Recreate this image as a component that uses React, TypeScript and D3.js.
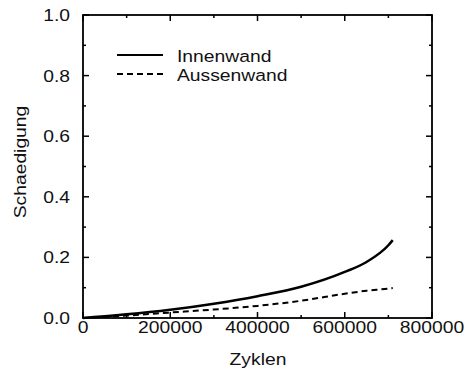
import React from "react";
import * as d3 from "d3";

const cycles = [0, 50000, 100000, 200000, 300000, 400000, 500000, 600000, 650000, 700000, 710000];
const innen = [0, 0.006, 0.012, 0.027, 0.047, 0.072, 0.103, 0.152, 0.185, 0.24, 0.257];
const aussen = [0, 0.004, 0.008, 0.018, 0.028, 0.04, 0.057, 0.08, 0.09, 0.097, 0.099];
const xTicks = [0, 200000, 400000, 600000, 800000];
const yTicks = [0, 0.2, 0.4, 0.6, 0.8, 1.0];
const seriesNames = ["Innenwand", "Aussenwand"];

const W = 467, H = 374;
const L = 83, R = 432, T = 15, B = 318;
const SX = 1.17;
const FS = 16.5;

function Txt(props: { x: number; y: number; anchor?: string; rot?: boolean; children: any }) {
  const { x, y, anchor = "start", rot = false, children } = props;
  const tr = `translate(${x},${y})${rot ? " rotate(-90)" : ""} scale(${SX},1)`;
  return (
    <text transform={tr} textAnchor={anchor} fontSize={FS} fill="#111">{children}</text>
  );
}

export default function App() {
  const x = d3.scaleLinear().domain([0, 800000]).range([L, R]);
  const y = d3.scaleLinear().domain([0, 1]).range([B, T]);
  const line = d3.line<number>().x((_, i) => x(cycles[i])).y((d) => y(d)).curve(d3.curveMonotoneX);
  const xMinor = d3.range(0, 800001, 100000);
  const yMinor = d3.range(0, 1.0001, 0.1);
  const font = "'Liberation Sans', Arial, Helvetica, sans-serif";
  const ticks: any[] = [];
  xMinor.forEach((v, i) => {
    const len = i % 2 === 0 ? 6 : 3;
    ticks.push(<line key={"xb" + i} x1={x(v)} x2={x(v)} y1={B} y2={B - len} stroke="#000" strokeWidth={1.5} />);
    ticks.push(<line key={"xt" + i} x1={x(v)} x2={x(v)} y1={T} y2={T + len} stroke="#000" strokeWidth={1.5} />);
  });
  yMinor.forEach((v, i) => {
    const len = i % 2 === 0 ? 6 : 3;
    ticks.push(<line key={"yl" + i} x1={L} x2={L + len} y1={y(v)} y2={y(v)} stroke="#000" strokeWidth={1.5} />);
    ticks.push(<line key={"yr" + i} x1={R} x2={R - len} y1={y(v)} y2={y(v)} stroke="#000" strokeWidth={1.5} />);
  });
  return (
    <svg width={W} height={H} style={{ position: "absolute", left: 0, top: 0, background: "#fff" }} fontFamily={font}>
      <rect x={0} y={0} width={W} height={H} fill="#fff" />
      <rect x={L} y={T} width={R - L} height={B - T} fill="none" stroke="#000" strokeWidth={1.8} />
      {ticks}
      {xTicks.map((v) => (
        <Txt key={"xl" + v} x={x(v)} y={B + 15} anchor="middle">{v}</Txt>
      ))}
      {yTicks.map((v) => (
        <Txt key={"yl" + v} x={L - 13} y={y(v) + 6} anchor="end">{v.toFixed(1)}</Txt>
      ))}
      <Txt x={258} y={365} anchor="middle">Zyklen</Txt>
      <Txt x={26} y={162} anchor="middle" rot>Schaedigung</Txt>
      <path d={line(innen) || ""} fill="none" stroke="#000" strokeWidth={2.5} />
      <path d={line(aussen) || ""} fill="none" stroke="#000" strokeWidth={2} strokeDasharray="6,4" />
      <line x1={117} x2={163} y1={55} y2={55} stroke="#000" strokeWidth={1.8} />
      <line x1={117} x2={163} y1={74} y2={74} stroke="#000" strokeWidth={1.8} strokeDasharray="6,4" />
      <Txt x={177} y={62}>{seriesNames[0]}</Txt>
      <Txt x={177} y={81}>{seriesNames[1]}</Txt>
    </svg>
  );
}
